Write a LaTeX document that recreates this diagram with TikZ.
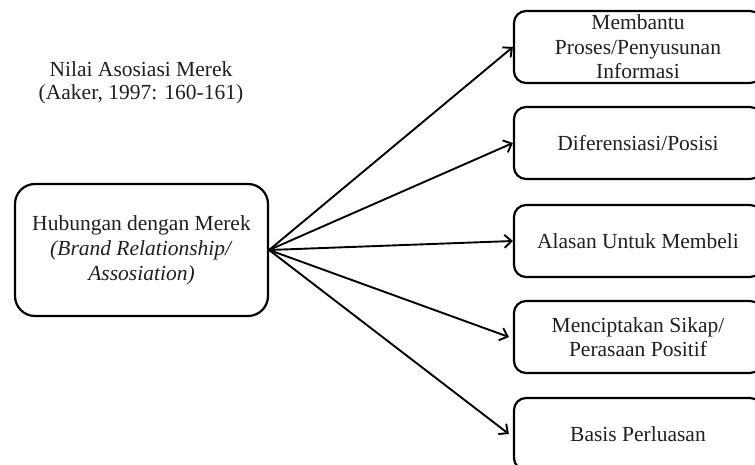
\documentclass[tikz,border=0pt]{standalone}
\usepackage{fontspec}
\setmainfont{Liberation Serif}
\usetikzlibrary{arrows.meta}

\tikzset{
  kotak/.style={draw, line width=2.2pt, rounded corners=12pt, align=center,
    minimum width=248pt, minimum height=72pt, inner sep=0pt,
    text=black!88, font=\fontsize{21.5}{24.5}\selectfont},
  panah/.style={-{Straight Barb[length=7pt, width=13pt]}, line width=1.9pt}
}

\begin{document}
\begin{tikzpicture}[x=1pt, y=-1pt]
  \useasboundingbox (0,0) rectangle (755,465);
  \clip (0,0) rectangle (755,465);

  % Title
  \node[align=center, text=black!88, font=\fontsize{21.5}{23}\selectfont]
    (judul) at (141,83) {Nilai Asosiasi Merek\\(Aaker, 1997: 160-161)};

  % Source box
  \node[kotak, rounded corners=20pt, minimum width=253pt, minimum height=132pt,
    font=\fontsize{21.5}{25}\selectfont] (hub) at (141.5,250)
    {Hubungan dengan Merek\\\textit{(Brand Relationship/}\\\textit{Assosiation)}};

  % Target boxes
  \node[kotak] (b1) at (638,47)  {Membantu\\Proses/Penyusunan\\Informasi};
  \node[kotak] (b2) at (638,143) {Diferensiasi/Posisi};
  \node[kotak] (b3) at (638,241) {Alasan Untuk Membeli};
  \node[kotak] (b4) at (638,337) {Menciptakan Sikap/\\Perasaan Positif};
  \node[kotak] (b5) at (638,434) {Basis Perluasan};

  % Arrows
  \draw[panah] (hub.east) -- (b1.west);
  \draw[panah] (hub.east) -- (b2.west);
  \draw[panah] (hub.east) -- (b3.west);
  \draw[panah] (hub.east) -- ([xshift=-4pt]b4.west);
  \draw[panah] (hub.east) -- ([xshift=-4pt]b5.west);
\end{tikzpicture}
\end{document}
